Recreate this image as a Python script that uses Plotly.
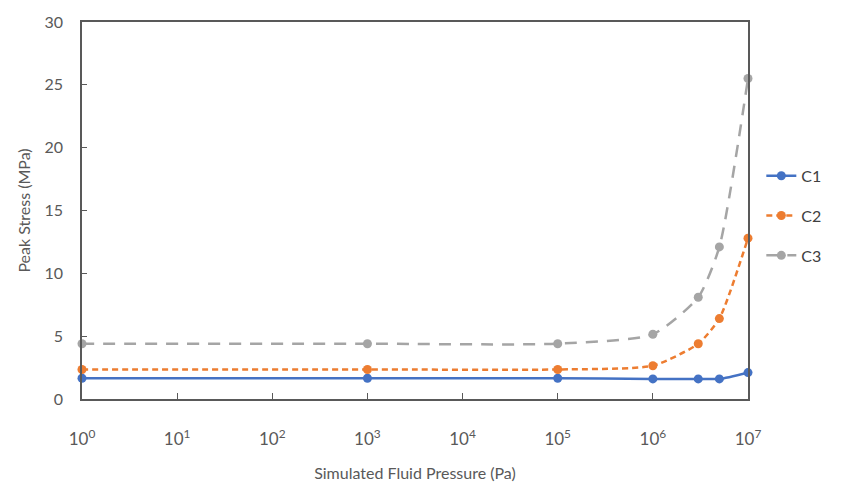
import plotly.graph_objects as go

pressure = [1, 1e3, 1e5, 1e6, 3e6, 5e6, 1e7]
c1 = [1.65, 1.65, 1.65, 1.6, 1.6, 1.6, 2.1]
c2 = [2.35, 2.35, 2.35, 2.65, 4.4, 6.4, 12.8]
c3 = [4.4, 4.4, 4.4, 5.15, 8.1, 12.1, 25.5]
names = ["C1", "C2", "C3"]
colors = ["#4472C4", "#ED7D31", "#A5A5A5"]
dashes = ["solid", "6px,4px", "12px,9px"]
xtickvals = [1, 10, 100, 1e3, 1e4, 1e5, 1e6, 1e7]
xticktext = ["10<sup>%d</sup>" % i for i in range(8)]

fig = go.Figure()
for name, ys, col, d in zip(names, [c1, c2, c3], colors, dashes):
    fig.add_trace(go.Scatter(
        x=pressure, y=ys, name=name, legendgroup=name, mode="lines+markers",
        line=dict(color=col, width=2.5, dash=d, shape="spline", smoothing=0.6),
        marker=dict(color=col, size=9), cliponaxis=False))

fig.update_layout(
    width=849, height=498,
    margin=dict(l=82, r=101, t=15, b=99),
    paper_bgcolor="white", plot_bgcolor="white",
    font=dict(family="Lato, Open Sans, sans-serif", size=16, color="#595959"),
    legend=dict(x=1.02, y=0.637, yanchor="top", xanchor="left", font=dict(size=16, color="#404040"),
                tracegroupgap=16, bgcolor="rgba(0,0,0,0)"),
    xaxis=dict(type="log", range=[0, 7], tickvals=xtickvals, ticktext=xticktext,
               showline=True, linecolor="#595959", linewidth=1.5, mirror=True,
               ticks="inside", ticklen=6, tickcolor="#595959", showgrid=False, zeroline=False,
               ticklabelstandoff=24, tickfont=dict(size=17),
               title=dict(text="Simulated Fluid Pressure (Pa)", standoff=20, font=dict(size=16))),
    yaxis=dict(range=[0, 30], tickvals=[0, 5, 10, 15, 20, 25, 30],
               showline=True, linecolor="#595959", linewidth=1.5, mirror=True,
               ticks="inside", ticklen=5, tickcolor="#595959", showgrid=False, zeroline=False,
               ticklabelstandoff=14, tickfont=dict(size=16),
               title=dict(text="Peak Stress (MPa)", standoff=10, font=dict(size=16))),
)

fig.write_html("out.html")
